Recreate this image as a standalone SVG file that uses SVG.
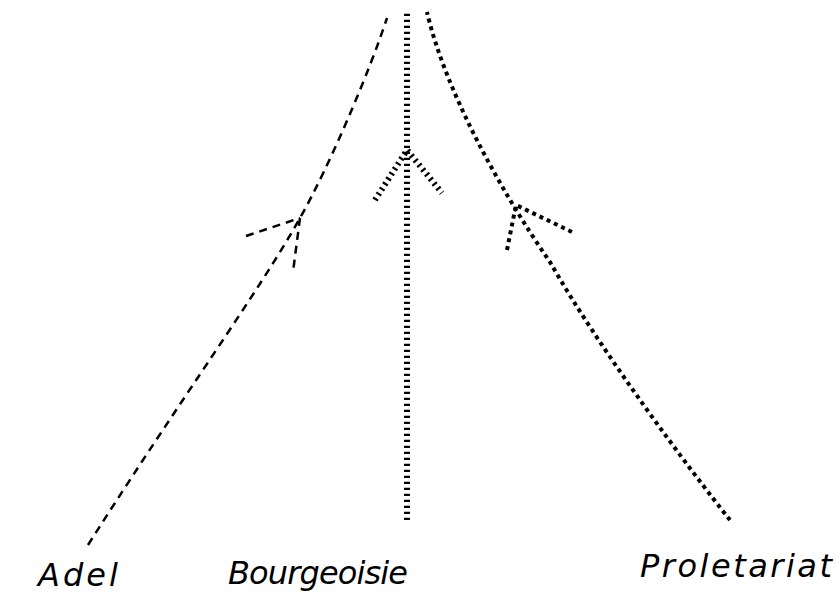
<svg xmlns="http://www.w3.org/2000/svg" width="836" height="596" viewBox="0 0 836 596">
<style>
.l{fill:none;stroke:#000;stroke-linecap:butt}
.adel{stroke-width:2.5;stroke-dasharray:8 6}
.bour{stroke-width:6;stroke-dasharray:2.2 3.8}
.prol{stroke-width:4;stroke-dasharray:4 4}
.t{font-family:"DejaVu Sans","Liberation Sans",sans-serif;font-style:italic;font-size:32px;fill:#000;font-weight:300}
</style>
<rect width="836" height="596" fill="#fff"/>
<g id="connectors">
<path id="adel-line" class="l adel" d="M88,545 C180,400 260,290 300,218 C330,165 370,70 387,18"/>
<path id="adel-arrow" class="l adel" d="M246,236 L300,218 M300,218 L293,272"/>
<path id="bour-line" class="l bour" d="M407,520 L407,12"/>
<path id="bour-arrow" class="l bour" d="M375,200 L407,150 L442,193"/>
<path id="prol-line" class="l prol" d="M730,520 C690,470 600,350 550,262 C500,190 445,90 427,12"/>
<path id="prol-arrow" class="l prol" d="M507,250 L516,205 L572,232"/>
</g>
<g id="adel"><text class="t" x="38" y="586" textLength="80" lengthAdjust="spacing">Adel</text></g>
<g id="bourgeoisie"><text class="t" x="228" y="584" textLength="180" lengthAdjust="spacing">Bourgeoisie</text></g>
<g id="proletariat"><text class="t" x="640" y="577" textLength="192" lengthAdjust="spacing">Proletariat</text></g>
</svg>
